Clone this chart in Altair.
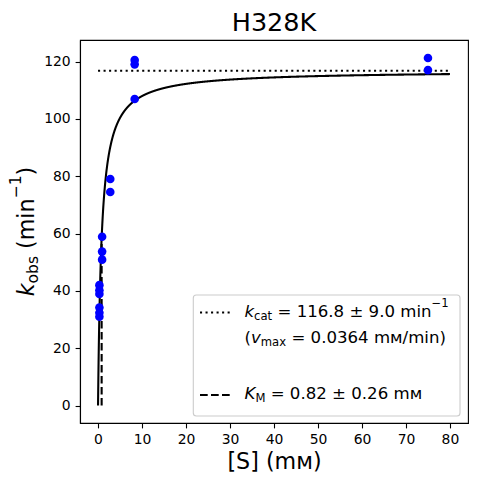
import altair as alt
import pandas as pd

# ---- data ----
substrate_mM = [75.0, 75.0, 8.33, 8.33, 8.33, 2.78, 2.78, 0.926, 0.926, 0.926,
                0.309, 0.309, 0.309, 0.309, 0.309, 0.309]
kobs = [121.2, 117.0, 120.5, 119.0, 106.9, 79.0, 74.5, 58.9, 53.7, 50.9,
        42.0, 40.2, 38.9, 34.2, 32.4, 31.0]
kcat = 116.8
KM = 0.82
x_ticks = [0, 10, 20, 30, 40, 50, 60, 70, 80]
y_ticks = [0, 20, 40, 60, 80, 100, 120]

FONT = "DejaVu Sans"
W, H = 388, 383

pts = pd.DataFrame({"S": substrate_mM, "k": kobs})
xs = alt.Scale(domain=[-4.1, 84.1], nice=False, zero=False)
ys = alt.Scale(domain=[-6.07, 127.5], nice=False, zero=False)
xax = alt.Axis(values=x_ticks, title="[S] (mм)", grid=False,
               titleY=45, titleBaseline="alphabetic")
yax = alt.Axis(values=y_ticks, title=None, grid=False)

seq = alt.sequence(0, 80.001, 0.02, as_="S")
curve = alt.Chart(seq).transform_calculate(
    k=f"{kcat}*datum.S/({KM}+datum.S)"
).mark_line(color="black", strokeWidth=2.08).encode(
    x=alt.X("S:Q", scale=xs, axis=xax), y=alt.Y("k:Q", scale=ys, axis=yax))

dotted = alt.Chart(pd.DataFrame({"S": [0, 80], "k": [kcat, kcat]})).mark_line(
    color="black", strokeWidth=2.08, strokeDash=[2.08, 3.44]).encode(
    x=alt.X("S:Q", scale=xs, axis=xax), y=alt.Y("k:Q", scale=ys, axis=yax))

dashed = alt.Chart(pd.DataFrame({"S": [KM, KM], "k": [0, kcat / 2]})).mark_line(
    color="black", strokeWidth=2.08, strokeDash=[7.7, 3.3]).encode(
    x=alt.X("S:Q", scale=xs, axis=xax), y=alt.Y("k:Q", scale=ys, axis=yax))

points = alt.Chart(pts).mark_circle(size=74, color="#0000ff", opacity=1).encode(
    x=alt.X("S:Q", scale=xs, axis=xax), y=alt.Y("k:Q", scale=ys, axis=yax))

one = pd.DataFrame({"d": [0]})

# ---- text helpers (DejaVu Sans advance widths, em units) ----
ADV = {" ": .318, "(": .390, ")": .390, ".": .318, "/": .337, "=": .838,
       "±": .838, "−": .838, "a": .613, "b": .635, "c": .550, "i": .278,
       "m": .974, "n": .634, "o": .612, "s": .521, "t": .392, "x": .592,
       "M": .863, "м": .753, "k": .579, "v": .592, "K": .656}
for d in "0123456789":
    ADV[d] = .636


def tw(s, size):
    return sum(ADV.get(c, .6) for c in s) * size


layers_txt = []


def run(pieces, x0, base, fs, angle=0):
    """pieces: (text, kind) kind in n,i,sub,sup"""
    pos = 0.0
    for s, kind in pieces:
        size = fs * 0.7 if kind in ("sub", "sup") else fs
        shift = 0.0
        if kind == "sub":
            shift = 0.2 * fs
        elif kind == "sup":
            shift = -0.58 * fs
        lead = len(s) - len(s.lstrip(" "))
        off = pos + tw(s[:lead], size)
        txt = s.strip(" ")
        if angle == 0:
            px, py = x0 + off, base + shift
        else:
            px, py = base + shift, x0 - off
        layers_txt.append(
            alt.Chart(one).mark_text(
                text=txt, align="left", baseline="alphabetic", font=FONT,
                fontSize=size, fontStyle="italic" if kind == "i" else "normal",
                color="black", angle=angle,
            ).encode(x=alt.value(px), y=alt.value(py)))
        pos += tw(s, size)


LF = 16.6
LX = 164.5
run([("k", "i"), ("cat", "sub"), (" = 116.8 ± 9.0 min", "n"), ("−1", "sup")],
    LX, 277.0, LF)
run([("(", "n"), ("v", "i"), ("max", "sub"), (" = 0.0364 mм/min)", "n")],
    LX, 302.5, LF)
run([("K", "i"), ("M", "sub"), (" = 0.82 ± 0.26 mм", "n")], LX, 359.0, LF)

# rotated y-axis title
run([("k", "i"), ("obs", "sub"), (" (min", "n"), ("−1", "sup"), (")", "n")],
    256.3, -46.5, 22.2, angle=270)

title = alt.Chart(one).mark_text(
    text="H328K", align="center", baseline="alphabetic", font=FONT,
    fontSize=25.5, color="black").encode(x=alt.value(W / 2), y=alt.value(-9.4))

legend_box = alt.Chart(one).mark_rect(
    cornerRadius=3, fill="white", fillOpacity=0.8, stroke="#cccccc",
    strokeWidth=1.1).encode(
    x=alt.value(113.3), x2=alt.value(380), y=alt.value(255), y2=alt.value(376))

leg_dot = alt.Chart(one).mark_rule(
    color="black", strokeWidth=2.08, strokeDash=[2.08, 3.44]).encode(
    x=alt.value(120), x2=alt.value(153), y=alt.value(272.5))
leg_dash = alt.Chart(one).mark_rule(
    color="black", strokeWidth=2.08, strokeDash=[7.7, 3.3]).encode(
    x=alt.value(120), x2=alt.value(153), y=alt.value(355))

chart = alt.layer(
    dashed, curve, dotted, points, legend_box, leg_dot, leg_dash, title,
    *layers_txt
).properties(
    width=W, height=H,
    autosize=alt.AutoSizeParams(type="none"),
    padding={"left": 72, "top": 32, "right": 1, "bottom": 49},
).configure_axis(
    labelFont=FONT, labelFontSize=13.9, labelColor="black", labelPadding=4.9,
    tickSize=4.9, tickWidth=1.1, tickColor="black",
    domainColor="black", domainWidth=1.1,
    titleFont=FONT, titleFontSize=22.2, titleFontWeight="normal",
    titleColor="black",
).configure_view(stroke="black", strokeWidth=1.1)

chart.save("out.html", embed_options={"renderer": "svg", "actions": False})
